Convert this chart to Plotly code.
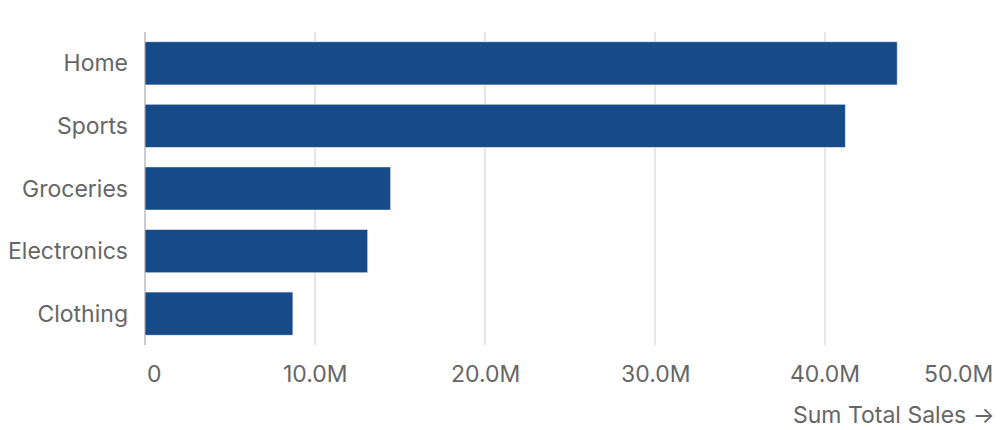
import plotly.graph_objects as go

categories = ["Home", "Sports", "Groceries", "Electronics", "Clothing"]
total_sales = [44.25e6, 41.2e6, 14.45e6, 13.1e6, 8.7e6]
tick_vals = [0, 10e6, 20e6, 30e6, 40e6, 50e6]
tick_labels = ["0", "10.0M", "20.0M", "30.0M", "40.0M", "50.0M"]

FONT = "Inter"
GREY = "#666666"
SIZE = 23

fig = go.Figure()
fig.add_trace(go.Bar(
    x=total_sales,
    y=categories,
    orientation="h",
    marker=dict(color="#164a88", line=dict(color="rgba(255,255,255,0.55)", width=1)),
    hoverinfo="x+y",
))

# tick labels placed by hand so the end ones can be aligned to the edges
for i, (v, t) in enumerate(zip(tick_vals, tick_labels)):
    anchor = "center"
    if i == 0:
        anchor = "left"
    elif i == len(tick_vals) - 1:
        anchor = "right"
    fig.add_annotation(
        x=v, y=0, xref="x", yref="paper",
        text=t, showarrow=False,
        xanchor=anchor, yanchor="middle", yshift=-29,
        font=dict(family=FONT, size=SIZE, color=GREY),
    )

fig.add_annotation(
    x=1, y=0, xref="paper", yref="paper",
    text="Sum Total Sales →", showarrow=False,
    xanchor="right", yanchor="middle", yshift=-70, xshift=2,
    font=dict(family=FONT, size=SIZE, color=GREY),
)

fig.update_layout(
    width=1000, height=430,
    margin=dict(l=145, r=5, t=32, b=85, autoexpand=False),
    paper_bgcolor="white",
    plot_bgcolor="white",
    bargap=0.31,
    showlegend=False,
    font=dict(family=FONT, size=SIZE, color=GREY),
    xaxis=dict(
        range=[0, 50e6],
        tickvals=tick_vals,
        showticklabels=False,
        showgrid=True,
        gridcolor="#e6e6e6",
        gridwidth=1.5,
        zeroline=True,
        zerolinecolor="#cccccc",
        zerolinewidth=2,
        showline=False,
        automargin=False,
        fixedrange=True,
    ),
    yaxis=dict(
        categoryorder="array",
        categoryarray=categories[::-1],
        showgrid=False,
        zeroline=False,
        showline=False,
        ticks="",
        ticklabelstandoff=16,
        tickfont=dict(family=FONT, size=SIZE, color=GREY),
        automargin=False,
        fixedrange=True,
    ),
)

# page body has a default 8px margin, drop it so the figure fills the window
fig.write_html("out.html", config={"displayModeBar": False},
               post_script="document.body.style.margin='0';")
